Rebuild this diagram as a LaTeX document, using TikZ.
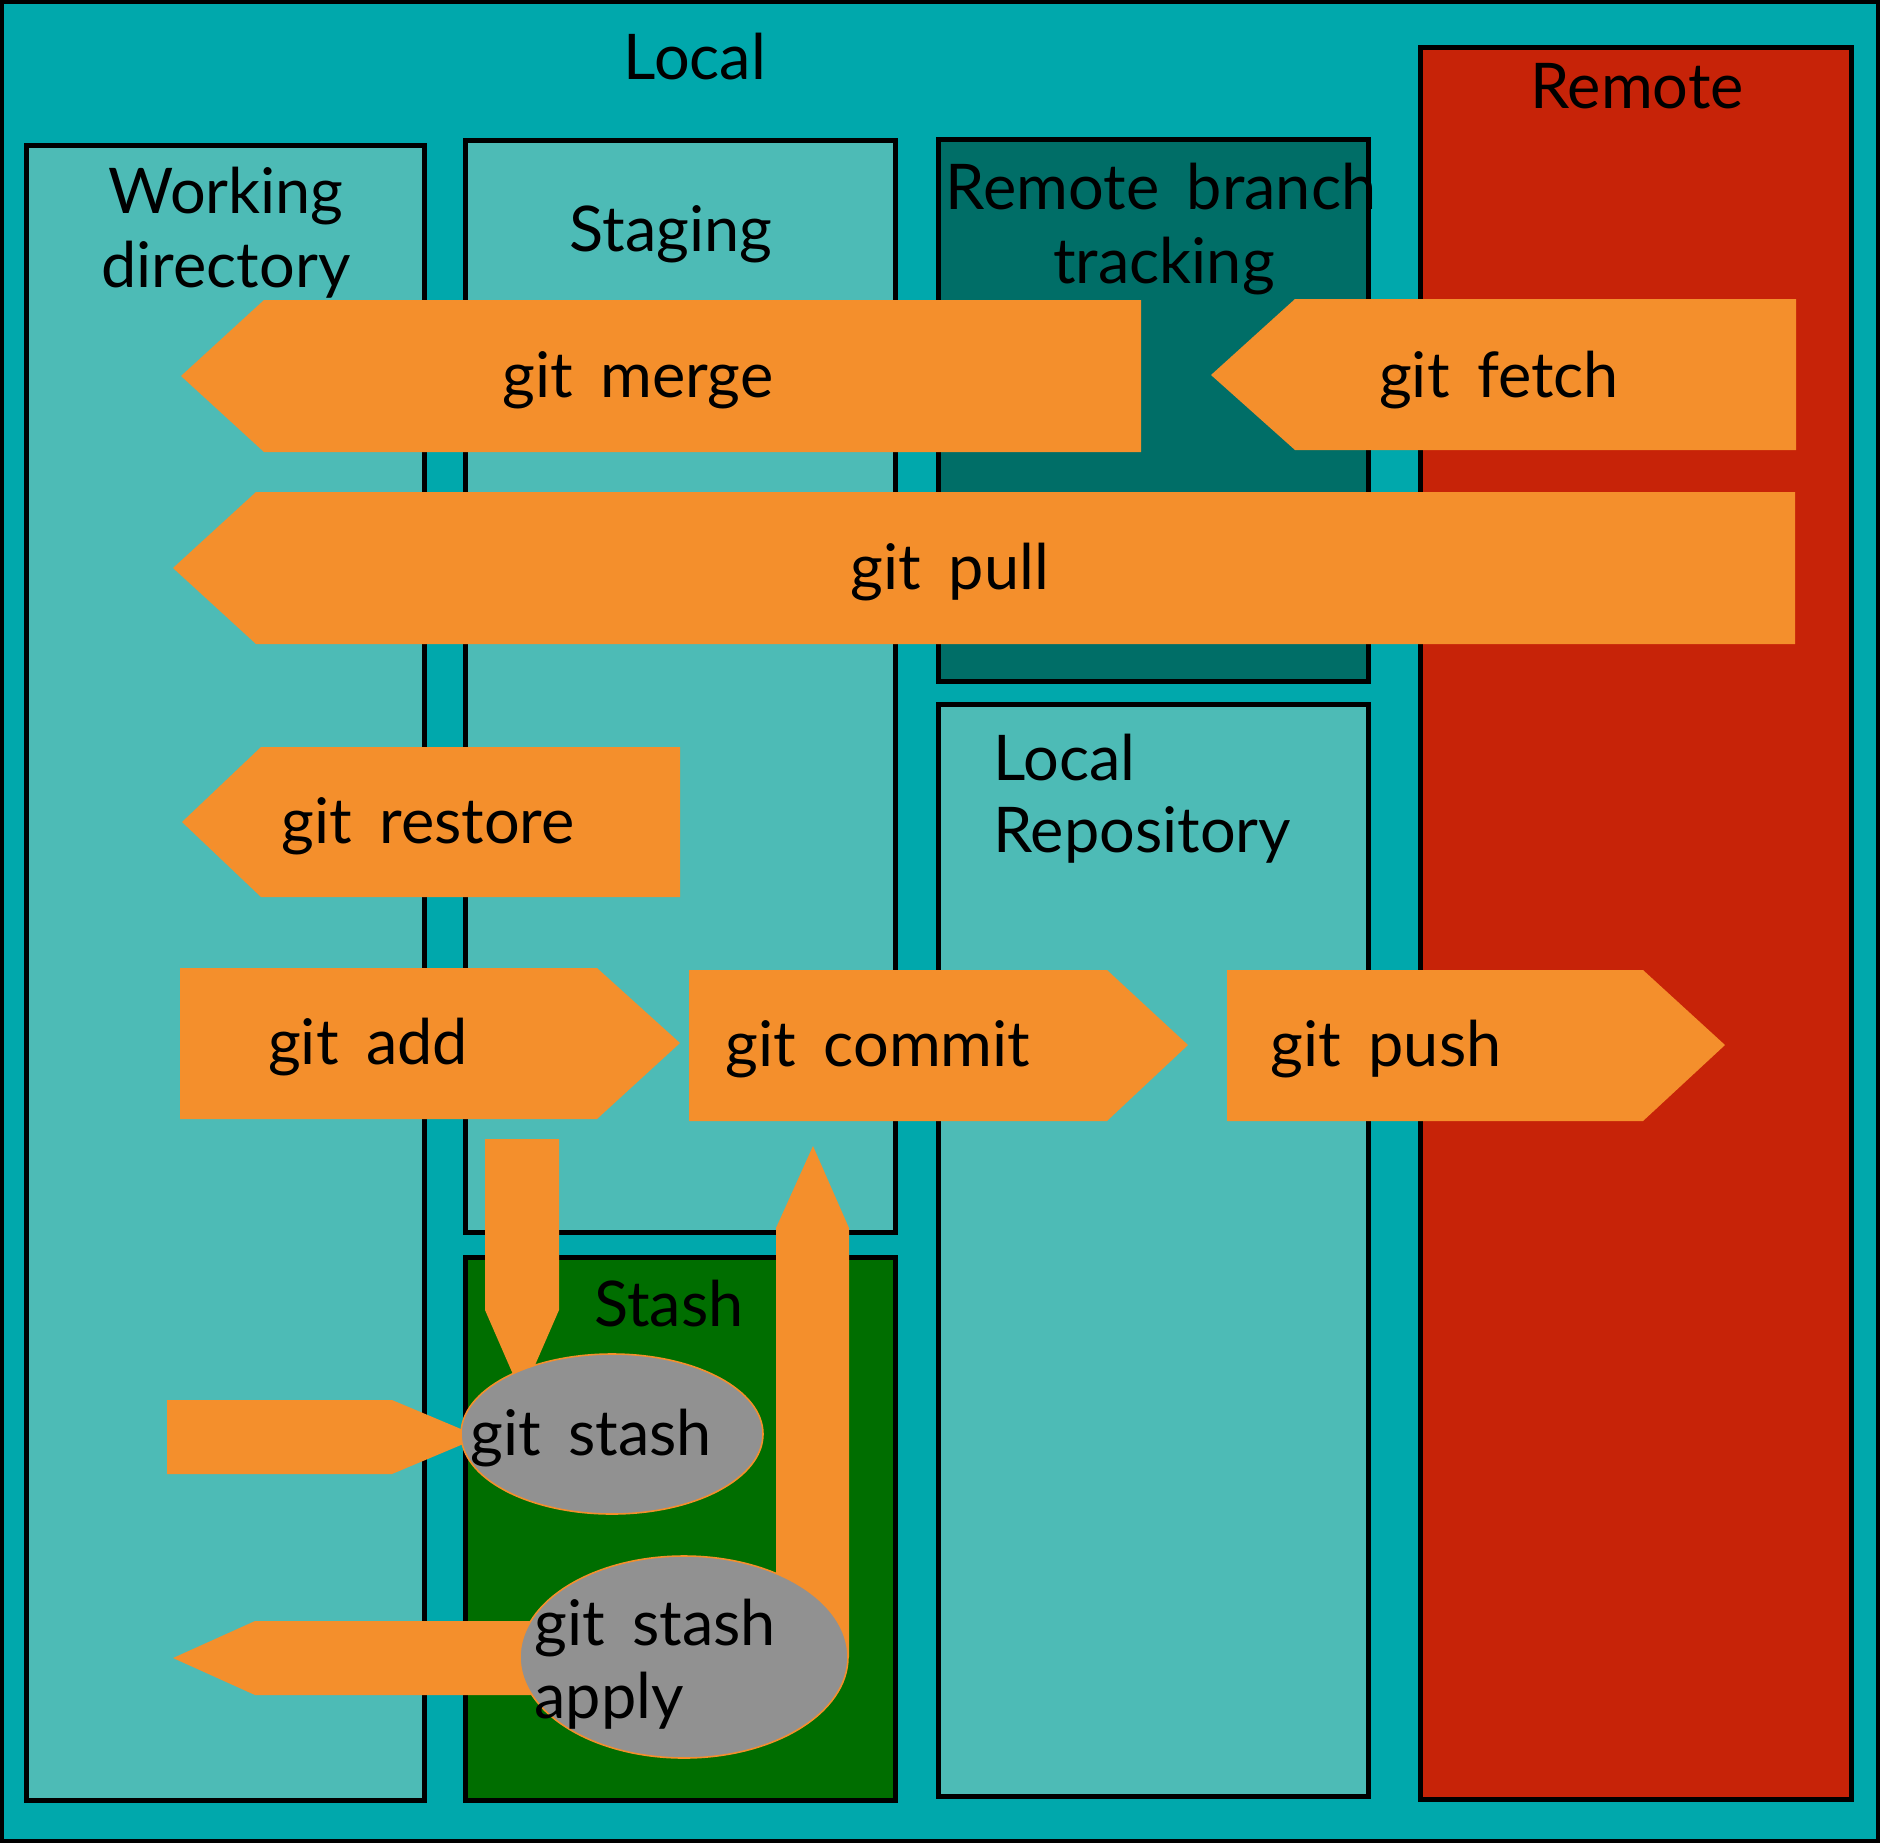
\documentclass[tikz,border=0pt]{standalone}
\usepackage{fontspec}
\setmainfont{Lato}[WordSpace=1.7]
\definecolor{bgteal}{RGB}{0,168,172}
\definecolor{lightteal}{RGB}{77,187,182}
\definecolor{darkteal}{RGB}{0,110,103}
\definecolor{remotered}{RGB}{199,35,8}
\definecolor{stashgreen}{RGB}{0,110,0}
\definecolor{arroworange}{RGB}{244,143,44}
\definecolor{stashgray}{RGB}{145,145,145}
\begin{document}
\begin{tikzpicture}[x=0.5pt,y=-0.5pt,
  area/.style={draw=black,line width=2.5pt},
  blockarrow/.style={fill=arroworange},
  stashell/.style={fill=stashgray,draw=arroworange,line width=0.8pt},
  lbl/.style={font=\fontsize{31.5}{37}\selectfont,inner sep=0pt,anchor=base}]
\useasboundingbox (0,0) rectangle (1880,1843);
% background
\fill[bgteal] (0,0) rectangle (1880,1843);
\draw[line width=2pt] (2,2) rectangle (1878,1841);
% areas
\draw[area,fill=lightteal] (26,145) rectangle (424,1800);
\draw[area,fill=lightteal] (465,140) rectangle (895,1232);
\draw[area,fill=stashgreen] (465,1257) rectangle (895,1800);
\draw[area,fill=darkteal] (938,139) rectangle (1368,681);
\draw[area,fill=lightteal] (938,704) rectangle (1368,1796);
\draw[area,fill=remotered] (1420,47) rectangle (1851,1799);
% area titles
\node[lbl] (tlocal) at (695,79) {Local};
\node[lbl] (tremote) at (1637,108) {Remote};
\node[lbl] (twd1) at (226,213) {Working};
\node[lbl] (twd2) at (226,287) {directory};
\node[lbl] (tstaging) at (671,251) {Staging};
\node[lbl] (trbt1) at (1161,209) {Remote branch};
\node[lbl] (trbt2) at (1164,283) {tracking};
\node[lbl,anchor=base west] (tlr1) at (993,780) {Local};
\node[lbl,anchor=base west] (tlr2) at (993,852) {Repository};
\node[lbl] (tstash) at (669,1326) {Stash};
% block arrows
\fill[blockarrow] (1141,300) -- (264,300) -- (181,376) -- (264,452) -- (1141,452) -- cycle;
\fill[blockarrow] (1796,299) -- (1295,299) -- (1211,375) -- (1295,450) -- (1796,450) -- cycle;
\fill[blockarrow] (1795,492) -- (256,492) -- (173,568) -- (256,644) -- (1795,644) -- cycle;
\fill[blockarrow] (680,747) -- (261,747) -- (182,822) -- (261,897) -- (680,897) -- cycle;
\fill[blockarrow] (180,968) -- (597,968) -- (680,1043) -- (597,1119) -- (180,1119) -- cycle;
\fill[blockarrow] (689,970) -- (1107,970) -- (1188,1045) -- (1107,1121) -- (689,1121) -- cycle;
\fill[blockarrow] (1227,970) -- (1643,970) -- (1725,1045) -- (1643,1121) -- (1227,1121) -- cycle;
\fill[blockarrow] (485,1139) -- (559,1139) -- (559,1310) -- (522,1395) -- (485,1310) -- cycle;
\fill[blockarrow] (776,1657) -- (776,1228) -- (813,1146) -- (849,1228) -- (849,1657) -- cycle;
\fill[blockarrow] (167,1400) -- (392,1400) -- (480,1437) -- (392,1474) -- (167,1474) -- cycle;
\fill[blockarrow] (600,1621) -- (255,1621) -- (173,1658) -- (255,1695) -- (600,1695) -- cycle;
% stash ellipses
\draw[stashell] (612,1434) ellipse [x radius=151, y radius=80];
\draw[stashell] (684,1657) ellipse [x radius=164, y radius=101];
% arrow labels
\node[lbl] (lmerge) at (638,397) {git merge};
\node[lbl] (lfetch) at (1499,397) {git fetch};
\node[lbl] (lpull) at (950,589) {git pull};
\node[lbl] (lrestore) at (428,843) {git restore};
\node[lbl] (ladd) at (368,1064) {git add};
\node[lbl] (lcommit) at (878,1066) {git commit};
\node[lbl] (lpush) at (1386,1066) {git push};
\node[lbl,anchor=base west] (lstash) at (470,1455) {git stash};
\node[lbl,anchor=base west] (lapply1) at (534,1645) {git stash};
\node[lbl,anchor=base west] (lapply2) at (534,1718) {apply};
\end{tikzpicture}
\end{document}
